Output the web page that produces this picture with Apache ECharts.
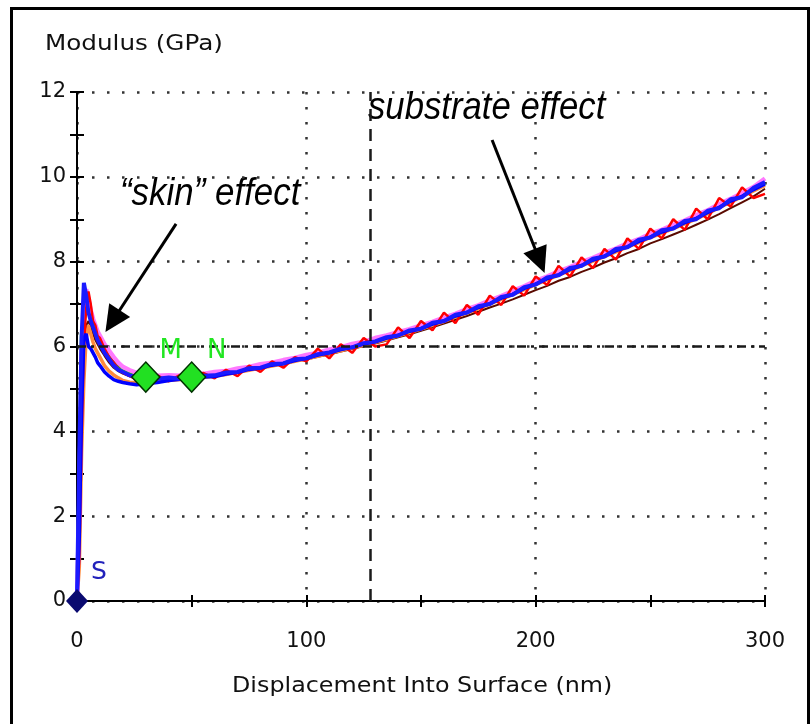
<!DOCTYPE html>
<html>
<head>
<meta charset="utf-8">
<script src="https://cdn.jsdelivr.net/npm/echarts@6/dist/echarts.min.js"></script>
<style>
html,body{margin:0;padding:0;background:#fff;}
#c{width:812px;height:724px;}
</style>
</head>
<body>
<div id="c"></div>
<script>
// Displacement into surface (nm) shared by all curves
const X = [0,1,2,3,4,5,6,7,8,9,10,
  12,14,16,18,20,23,26,
  30,35,40,45,50,55,60,65,70,75,80,85,90,95,100,
  105,110,115,120,125,130,135,140,145,150,155,160,165,170,175,180,185,190,195,200,
  205,210,215,220,225,230,235,240,245,250,255,260,265,270,275,280,285,290,295,300];

// Modulus (GPa) of each indent
const brown = [0,1.2,4.0,5.8,6.5,6.6,6.45,6.3,6.15,6.05,5.95,
  5.78,5.62,5.5,5.42,5.36,5.3,5.26,
  5.24,5.22,5.23,5.23,5.26,5.27,5.31,5.34,5.38,5.44,5.48,5.54,5.58,5.65,5.69,
  5.76,5.81,5.88,5.94,6.01,6.07,6.14,6.22,6.29,6.37,6.45,6.54,6.63,6.72,6.82,6.92,7.01,7.11,7.22,7.33,
  7.43,7.55,7.64,7.76,7.86,7.98,8.08,8.2,8.3,8.43,8.53,8.64,8.75,8.87,8.99,9.12,9.26,9.4,9.54,9.72];
const orange = [0,0.8,3.5,5.2,6.2,6.5,6.3,6.1,5.95,5.85,5.75,
  5.55,5.42,5.33,5.26,5.2,5.16,5.15,
  5.16,5.18,5.2,5.22,5.24,5.27,5.3,5.34,5.39,5.44,5.49,5.54,5.59,5.65,5.71,
  5.77,5.84,5.9,5.97,6.03,6.1,6.17,6.25,6.33,6.41,6.5,6.59,6.69,6.79,6.89,7.0,7.11,7.22,7.34,7.46,
  7.57,7.68,7.79,7.9,8.01,8.12,8.23,8.34,8.45,8.57,8.67,8.78,8.89,9.01,9.13,9.27,9.4,9.53,9.67,9.8];
const green = [0,3.0,6.3,6.6,6.9,6.85,6.8,6.6,6.4,6.25,6.12,
  5.92,5.76,5.62,5.52,5.44,5.36,5.31,
  5.27,5.26,5.26,5.27,5.29,5.31,5.34,5.38,5.43,5.48,5.53,5.58,5.63,5.69,5.75,
  5.81,5.88,5.94,6.01,6.07,6.14,6.21,6.29,6.37,6.45,6.54,6.63,6.73,6.83,6.93,7.04,7.15,7.26,7.38,7.5,
  7.61,7.72,7.83,7.94,8.05,8.16,8.27,8.38,8.49,8.61,8.71,8.82,8.93,9.05,9.17,9.31,9.44,9.57,9.71,9.86];
const pink = [0,2.2,5.8,7.0,7.35,7.1,6.85,6.65,6.5,6.35,6.25,
  6.05,5.9,5.75,5.62,5.52,5.44,5.38,
  5.34,5.31,5.32,5.31,5.35,5.35,5.4,5.42,5.48,5.52,5.58,5.62,5.68,5.73,5.8,
  5.85,5.93,5.98,6.06,6.11,6.2,6.26,6.34,6.41,6.5,6.58,6.68,6.77,6.88,6.97,7.09,7.19,7.31,7.42,7.55,
  7.65,7.77,7.87,7.99,8.09,8.21,8.31,8.43,8.53,8.66,8.75,8.87,8.97,9.1,9.21,9.36,9.48,9.62,9.76,9.96];
const red = [0,1.0,3.8,6.0,6.9,7.3,7.0,6.6,6.5,6.25,6.2,
  5.95,5.75,5.62,5.48,5.38,5.3,5.22,
  5.2,5.32,5.18,5.33,5.2,5.38,5.25,5.45,5.3,5.55,5.4,5.65,5.5,5.75,5.65,
  5.95,5.72,6.05,5.85,6.2,6.0,6.05,6.45,6.2,6.6,6.38,6.8,6.55,6.98,6.75,7.2,6.98,7.42,7.2,7.65,
  7.45,7.9,7.65,8.1,7.85,8.3,8.05,8.55,8.3,8.78,8.55,9.0,8.75,9.25,9.0,9.5,9.3,9.75,9.5,9.6];
const blueLow = [0,1.5,4.5,6.2,6.3,6.0,5.95,5.85,5.75,5.62,5.55,
  5.4,5.3,5.22,5.18,5.15,5.12,5.1,
  5.12,5.15,5.2,5.23,5.24,5.28,5.29,5.35,5.39,5.46,5.49,5.56,5.6,5.67,5.72,
  5.8,5.85,5.93,5.98,6.06,6.11,6.2,6.26,6.36,6.42,6.53,6.6,6.72,6.8,6.92,7.01,7.14,7.23,7.37,7.47,
  7.6,7.69,7.82,7.91,8.04,8.13,8.26,8.35,8.48,8.58,8.7,8.79,8.92,9.02,9.16,9.28,9.43,9.54,9.7,9.83];
const blue = [0,3.5,6.2,7.5,7.2,6.8,6.6,6.45,6.3,6.15,6.05,
  5.85,5.7,5.55,5.45,5.4,5.32,5.28,
  5.25,5.24,5.27,5.24,5.29,5.31,5.32,5.39,5.4,5.49,5.5,5.59,5.6,5.7,5.72,
  5.82,5.86,5.95,5.98,6.08,6.12,6.22,6.26,6.38,6.42,6.56,6.6,6.75,6.8,6.95,7.0,7.17,7.22,7.4,7.46,
  7.63,7.68,7.85,7.9,8.07,8.12,8.3,8.34,8.52,8.57,8.74,8.78,8.96,9.0,9.2,9.26,9.47,9.52,9.74,9.88];

// Marked points
const sPoint = [0, 0];
const mnX = [30, 50];
const mnY = [5.28, 5.28];
const mnNames = ['M', 'N'];

// Axis ticks
const xTicks = [0, 100, 200, 300];
const yTicks = [0, 2, 4, 6, 8, 10, 12];
const crossX = 127.8, crossY = 6;

const zip = (ys) => X.map((x, i) => [x, ys[i]]);
const FONT = 'DejaVu Sans';

const curves = [
  {name:'brown', data:brown, color:'#5a0a00', w:2},
  {name:'orange', data:orange, color:'#ff8a3c', w:3.5},
  {name:'green', data:green, color:'#00d000', w:3.5},
  {name:'pink', data:pink, color:'#ff78ff', w:4.5},
  {name:'red', data:red, color:'#ff0000', w:2.5},
  {name:'blueLow', data:blueLow, color:'#0000ff', w:3.5},
  {name:'blue', data:blue, color:'#1a1aff', w:4}
];

const dotted = {color:'#333', width:2.5, type:[2.5, 12.5]};
const tickStyle = {color:'#000', width:2};

const series = curves.map(c => ({
  type:'line', name:c.name, data:zip(c.data), showSymbol:false, symbol:'none',
  lineStyle:{color:c.color, width:c.w}, silent:true, z:3
}));

// crosshair + arrows
series.push({
  type:'line', data:[], silent:true, z:6,
  markLine:{
    silent:true, symbol:['none','none'], label:{show:false}, animation:false,
    lineStyle:{color:'#1a1a1a', width:2.5},
    data:[
      {xAxis:crossX, lineStyle:{type:[12,8], color:'#1a1a1a', width:2.5}},
      {yAxis:crossY, lineStyle:{type:[9,5,3,5], color:'#1a1a1a', width:2.5}}
    ]
  }
});
series.push({
  type:'line', data:[], silent:true, z:8,
  markLine:{
    silent:true, symbol:['none','triangle'], symbolSize:[25,26], label:{show:false}, animation:false,
    lineStyle:{color:'#000', width:3, type:'solid'},
    data:[
      [{coord:[43.2, 8.89]}, {coord:[15.5, 6.60]}],
      [{coord:[181.0, 10.87]}, {coord:[201.8, 8.02]}]
    ]
  }
});
// S marker
series.push({
  type:'scatter', data:[sPoint], symbol:'diamond', symbolSize:[22,24], z:9,
  itemStyle:{color:'#0a0a70', opacity:1},
  label:{show:true, formatter:'S', position:'inside', offset:[22,-29], color:'#2222bb', fontSize:25, fontFamily:FONT}
});
// M, N markers
series.push({
  type:'scatter', data:mnX.map((x,i)=>({value:[x, mnY[i]], name:mnNames[i]})), symbol:'diamond', symbolSize:[28,30], z:9,
  itemStyle:{color:'#22e022', borderColor:'#003300', borderWidth:1.5, opacity:1},
  label:{show:true, formatter:p=>p.name, position:'inside', offset:[25,-26], color:'#22e622', fontSize:26, fontFamily:FONT}
});

const baseX = {type:'value', min:0, max:300, interval:100};
const baseY = {type:'value', min:0, max:12, interval:2};

const option = {
  backgroundColor:'#fff',
  animation:false,
  grid:{left:77, right:47, top:92, bottom:123},
  xAxis:[
    Object.assign({}, baseX, {
      axisLine:{show:true, lineStyle:{color:'#000', width:2}},
      axisTick:{show:true, length:6, lineStyle:tickStyle},
      minorTick:{show:true, splitNumber:2, length:6, lineStyle:tickStyle},
      axisLabel:{show:true, color:'#111', fontSize:21, fontFamily:FONT, margin:30,
        formatter:v=> xTicks.indexOf(v) >= 0 ? String(v) : ''},
      splitLine:{show:true, lineStyle:dotted}
    }),
    Object.assign({}, baseX, {
      position:'bottom',
      axisLine:{show:false},
      axisTick:{show:true, inside:true, length:6, lineStyle:tickStyle},
      minorTick:{show:true, splitNumber:2, length:6, lineStyle:tickStyle},
      axisLabel:{show:false}, splitLine:{show:false}
    })
  ],
  yAxis:[
    Object.assign({}, baseY, {
      axisLine:{show:true, lineStyle:{color:'#000', width:2}},
      axisTick:{show:true, length:7, lineStyle:tickStyle},
      minorTick:{show:true, splitNumber:2, length:7, lineStyle:tickStyle},
      axisLabel:{show:true, color:'#111', fontSize:21, fontFamily:FONT, margin:11,
        formatter:v=> yTicks.indexOf(v) >= 0 ? String(v) : ''},
      splitLine:{show:true, lineStyle:dotted}
    }),
    Object.assign({}, baseY, {
      position:'left',
      axisLine:{show:false},
      axisTick:{show:true, inside:true, length:7, lineStyle:tickStyle},
      minorTick:{show:true, splitNumber:2, length:7, lineStyle:tickStyle},
      axisLabel:{show:false}, splitLine:{show:false}
    })
  ],
  graphic:[
    {type:'rect', left:9, top:6, shape:{width:797, height:740}, style:{fill:null, stroke:'#000', lineWidth:3}, silent:true},
    {type:'text', x:45, y:33, scaleX:1.12, style:{text:'Modulus (GPa)', fill:'#111', font:'22px "DejaVu Sans"', textVerticalAlign:'top'}},
    {type:'text', x:232, y:676, scaleX:1.135, style:{text:'Displacement Into Surface (nm)', fill:'#111', font:'21px "DejaVu Sans"', textVerticalAlign:'top'}},
    {type:'text', x:368, y:89, scaleX:0.89, style:{text:'substrate effect', fill:'#000', font:'italic 39px "Liberation Sans", sans-serif', textVerticalAlign:'top'}},
    {type:'text', x:120, y:175, scaleX:0.895, style:{text:'\u201Cskin\u201D effect', fill:'#000', font:'italic 39px "Liberation Sans", sans-serif', textVerticalAlign:'top'}}
  ],
  series:series
};

const chart = echarts.init(document.getElementById('c'), null, {renderer:'canvas'});
chart.setOption(option);
</script>
</body>
</html>
